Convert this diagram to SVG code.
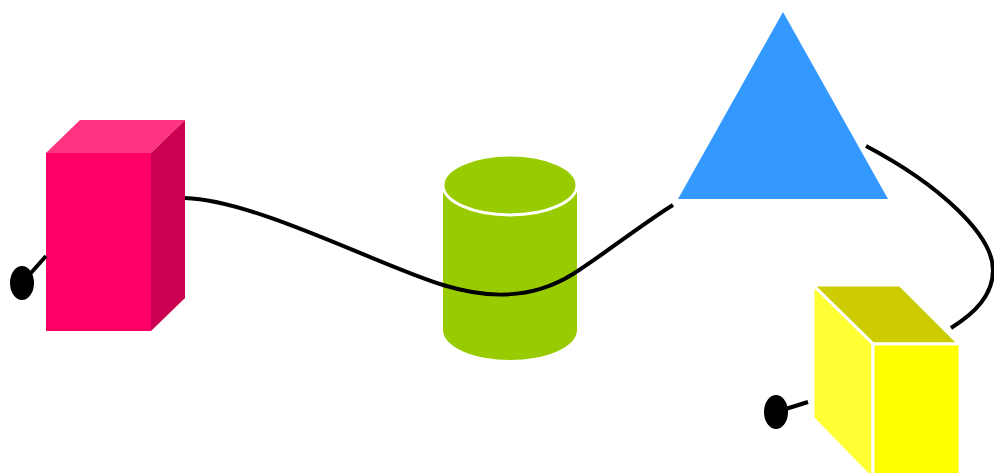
<svg xmlns="http://www.w3.org/2000/svg" width="994" height="473" viewBox="0 0 994 473">
<style>
.edge{fill:none;stroke:#000;stroke-width:4;stroke-linecap:butt}
.dot{fill:#000}
.sep{stroke:#fff;stroke-width:3;stroke-linejoin:miter}
</style>
<rect width="994" height="473" fill="#fff"/>
<g id="pink-box">
<polygon points="46,153 80,120 185,120 151,153" fill="#FF3380"/>
<polygon points="151,153 185,120 185,298 151,331" fill="#CC0052"/>
<rect x="46" y="153" width="105" height="178" fill="#FF0066"/>
</g>
<g id="cylinder">
<path d="M443,185 L443,330 A67,30 0 0 0 577,330 L577,185 Z" fill="#99CC00"/>
<ellipse cx="510" cy="185" rx="67" ry="30" fill="#99CC00" class="sep"/>
</g>
<g id="triangle">
<polygon points="783,12 678,199 888,199" fill="#3399FF"/>
</g>
<g id="yellow-box">
<polygon points="813,285 900,285 959,344 873,344" fill="#CCCC00" class="sep"/>
<polygon points="813,285 873,344 873,480 813,418" fill="#FFFF33" class="sep"/>
<rect x="873" y="344" width="87" height="140" fill="#FFFF00" class="sep"/>
</g>
<g id="connectors">
<path class="edge" d="M185,198 C255,200 380,266 443,285 C485,298 530,301 573,274 C603,255 648,220 673,205"/>
<path class="edge" d="M866,146 C940,185 993,235 993,270 C993,295 975,313 951,328"/>
<path class="edge" d="M22,283 L46,256"/>
<ellipse class="dot" cx="22" cy="283" rx="12" ry="17"/>
<path class="edge" d="M776,412 L808,402"/>
<ellipse class="dot" cx="776" cy="412" rx="12" ry="17"/>
</g>
</svg>
